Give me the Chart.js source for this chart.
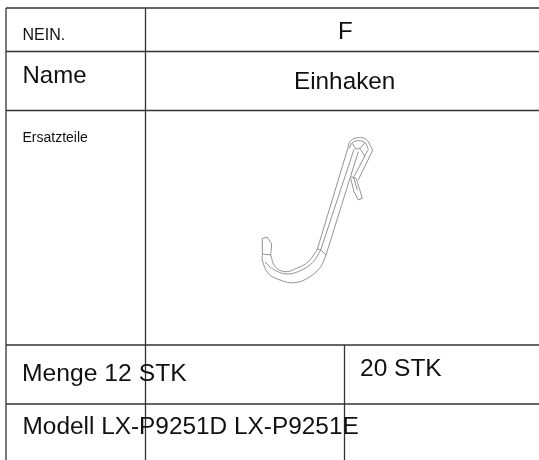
<!DOCTYPE html>
<html>
<head>
<meta charset="utf-8">
<style>
    html, body { margin: 0; padding: 0; background: #fff; }
    canvas { display: block; filter: blur(0.35px); }
</style>
<script src="https://cdn.jsdelivr.net/npm/chart.js@4"></script>
</head>
<body>
<canvas id="chart" width="539" height="460"></canvas>
<script>
// table rules, in picture units
var ruleTop = [[6, 8], [539, 8]];
var ruleNo = [[6, 51.5], [539, 51.5]];
var ruleName = [[6, 110.5], [539, 110.5]];
var ruleQty = [[6, 345], [539, 345]];
var ruleModel = [[6, 404], [539, 404]];
var ruleLeft = [[6, 8], [6, 460]];
var ruleMid = [[145.5, 8], [145.5, 460]];
var ruleRight = [[344.5, 345], [344.5, 460]];

// hook outline
var capOuter = [[347.3, 150], [350.7, 140.7], [358.3, 137.7], [366, 139.3], [372.7, 150]];
var capInner = [[349.3, 148.3], [352.3, 142.7], [358.3, 140.7], [365, 142.7], [368.3, 149.3]];
var backOuter = [[372.7, 150], [358.3, 180]];
var backInner = [[368.3, 149.3], [354, 176.7]];
var stemLeft = [[347.3, 150], [317.3, 249.3]];
var stemMid = [[354, 149.3], [320.7, 250]];
var stemRight = [[358.3, 151.7], [326, 255]];
var stemFold = [[317.3, 249.3], [320.7, 250], [326, 255]];
var curveOuter = [[326, 255], [320.7, 266.7], [310, 276.7], [295, 282.7], [280, 280], [268.3, 273.3], [262.3, 260], [262.3, 254]];
var curveMid = [[320.7, 250], [313.3, 261.7], [301.7, 270], [286.7, 274], [273.3, 269.3], [265, 262]];
var curveInner = [[317.3, 249.3], [308.3, 261.7], [296.7, 268.3], [285, 271.7], [275, 266.7], [270.7, 255]];
var tip = [[262.3, 238.3], [267.3, 237.3], [271.7, 244], [270.7, 255], [262.3, 254], [262.3, 238.3]];
var clip = [[350.7, 176.7], [356, 178.3], [359.3, 188.3], [362.3, 198.3], [358.3, 200], [354, 191.7], [350.7, 178.3]];
var clipFold = [[353.3, 176.7], [357.3, 190]];
var capLeftFold = [[352.3, 143.3], [356, 149.3], [360, 148.3], [365, 142.7]];
var capRightFold = [[360, 148.3], [365, 156.7]];

// cell texts
var cellTexts = ['NEIN.', 'Name', 'Ersatzteile', 'F', 'Einhaken', 'Menge 12 STK', '20 STK', 'Modell LX-P9251D LX-P9251E'];
var cellX = [22.5, 22.5, 22.5, 338, 294, 22, 360, 22.5];
var cellY = [39.5, 82.5, 141.5, 38.5, 88.5, 380.5, 375.5, 434];
var cellSize = [16, 24, 14, 24, 24.3, 24.7, 24.5, 24.4];

var rules = [ruleTop, ruleNo, ruleName, ruleQty, ruleModel, ruleLeft, ruleMid, ruleRight];
var straight = [backOuter, backInner, stemLeft, stemMid, stemRight, stemFold, tip, clip, clipFold, capRightFold, capLeftFold];
var curved = [capOuter, capInner, curveOuter, curveMid, curveInner];

var toPoints = function (pairs) {
    return pairs.map(function (p) { return { x: p[0], y: p[1] }; });
};

var line = function (pairs, color, width, tension) {
    return {
        data: toPoints(pairs),
        showLine: true,
        borderColor: color,
        borderWidth: width,
        tension: tension,
        pointRadius: 0
    };
};

var cellTextPlugin = {
    id: 'cellText',
    afterDatasetsDraw: function (chart) {
        var ctx = chart.ctx;
        ctx.save();
        ctx.fillStyle = '#111';
        ctx.textBaseline = 'alphabetic';
        cellTexts.forEach(function (text, i) {
            ctx.font = cellSize[i] + 'px "Liberation Sans"';
            ctx.fillText(text, chart.scales.x.getPixelForValue(cellX[i]), chart.scales.y.getPixelForValue(cellY[i]));
        });
        ctx.restore();
    }
};

var datasets = []
    .concat(rules.map(function (r) { return line(r, '#333', 1.3, 0); }))
    .concat(straight.map(function (r) { return line(r, '#888', 0.9, 0); }))
    .concat(curved.map(function (r) { return line(r, '#888', 0.9, 0.4); }));

new Chart(document.getElementById('chart').getContext('2d'), {
    type: 'scatter',
    data: { datasets: datasets },
    options: {
        responsive: false,
        animation: false,
        layout: { padding: 0 },
        plugins: { legend: { display: false }, tooltip: { enabled: false } },
        scales: {
            x: { type: 'linear', display: false, min: 0, max: 539 },
            y: { type: 'linear', display: false, min: 0, max: 460, reverse: true }
        }
    },
    plugins: [cellTextPlugin]
});
</script>
</body>
</html>
